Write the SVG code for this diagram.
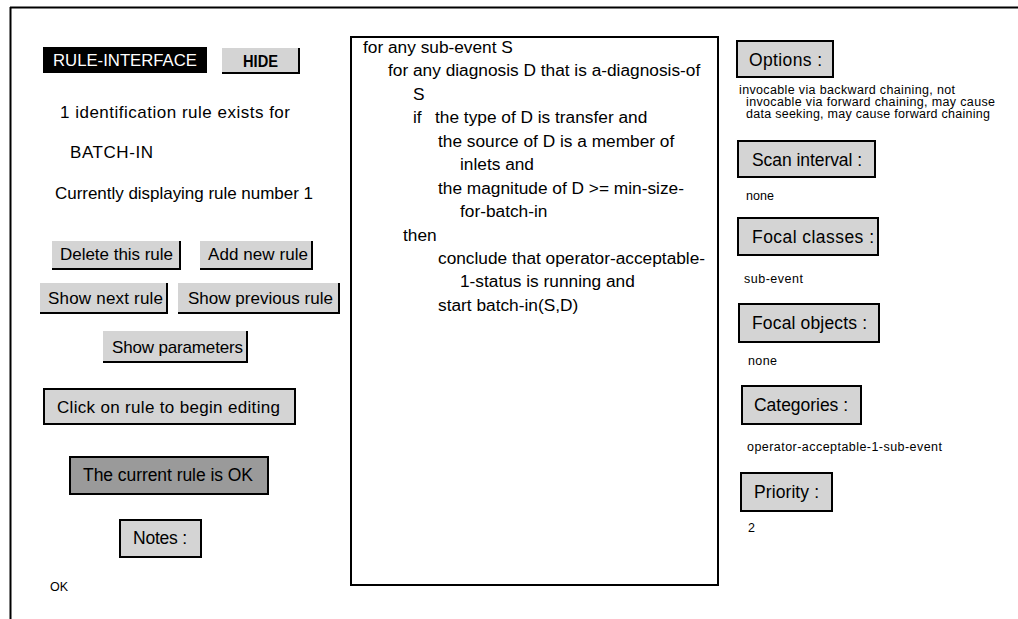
<svg xmlns="http://www.w3.org/2000/svg" width="1018" height="619" viewBox="0 0 1018 619">
<style>
text{font-family:"Liberation Sans",Arial,sans-serif;fill:#000}
.t{font-size:17px}
.c{font-size:17.5px}
.m{font-size:17.3px}
.s{font-size:12.5px}
.b{font-size:17px}
.btn{fill:#d4d4d4}
.sh{stroke:#000;stroke-width:2;fill:none}
.box{fill:#d4d4d4;stroke:#000;stroke-width:2}
</style>
<rect width="1018" height="619" fill="#fff"/>
<g id="frame">
<line x1="10" y1="7.5" x2="1018" y2="7.5" stroke="#000" stroke-width="2"/>
<line x1="10.5" y1="7" x2="10.5" y2="619" stroke="#000" stroke-width="2"/>
</g>
<g id="rule-interface">
<rect x="43" y="47" width="164" height="26" fill="#000"/>
<text x="53" y="66" class="b" textLength="144" lengthAdjust="spacingAndGlyphs" style="fill:#fff">RULE-INTERFACE</text>
</g>
<g id="hide">
<rect x="222" y="48" width="78" height="25" class="btn"/>
<path d="M299,48 V73 H222" class="sh"/>
<text x="243" y="67" class="b" font-weight="bold" textLength="35" lengthAdjust="spacingAndGlyphs">HIDE</text>
</g>
<g id="info">
<text x="60" y="118" class="t" textLength="230">1 identification rule exists for</text>
<text x="70" y="158" class="t" textLength="83">BATCH-IN</text>
<text x="55" y="199" class="t" textLength="258">Currently displaying rule number 1</text>
</g>
<g id="delete">
<rect x="52" y="241" width="129" height="28" class="btn"/>
<path d="M180,241 V269 H52" class="sh"/>
<text x="60" y="260" class="t" textLength="113">Delete this rule</text>
</g>
<g id="add">
<rect x="200" y="241" width="113" height="28" class="btn"/>
<path d="M312,241 V269 H200" class="sh"/>
<text x="208" y="260" class="t" textLength="100">Add new rule</text>
</g>
<g id="next">
<rect x="40" y="283" width="128" height="30" class="btn"/>
<path d="M167,283 V313 H40" class="sh"/>
<text x="48" y="304" class="t" textLength="115">Show next rule</text>
</g>
<g id="prev">
<rect x="178" y="283" width="162" height="30" class="btn"/>
<path d="M339,283 V313 H178" class="sh"/>
<text x="188" y="304" class="t" textLength="145">Show previous rule</text>
</g>
<g id="params">
<rect x="103" y="331" width="145" height="31" class="btn"/>
<path d="M247,331 V362 H103" class="sh"/>
<text x="112" y="353" class="t" textLength="131">Show parameters</text>
</g>
<g id="click-edit">
<rect x="44" y="389" width="251" height="35" class="box"/>
<text x="57" y="413" class="t" textLength="223">Click on rule to begin editing</text>
</g>
<g id="status">
<rect x="70" y="457" width="198" height="37" fill="#9a9a9a" stroke="#000" stroke-width="2"/>
<text x="83" y="481" class="c" textLength="170">The current rule is OK</text>
</g>
<g id="notes">
<rect x="120" y="520" width="81" height="37" class="box"/>
<text x="133" y="544" class="c" textLength="54">Notes :</text>
</g>
<g id="notes-value">
<text x="50" y="591" class="s" textLength="18">OK</text>
</g>
<g id="rule-text">
<rect x="351" y="37" width="367" height="548" fill="#fff" stroke="#000" stroke-width="2"/>
<text class="m">
<tspan x="363" y="53">for any sub-event S</tspan>
<tspan x="388" y="76">for any diagnosis D that is a-diagnosis-of</tspan>
<tspan x="413" y="100">S</tspan>
<tspan x="413" y="123">if</tspan><tspan x="435" y="123">the type of D is transfer and</tspan>
<tspan x="438" y="147">the source of D is a member of</tspan>
<tspan x="460" y="170">inlets and</tspan>
<tspan x="438" y="194">the magnitude of D &gt;= min-size-</tspan>
<tspan x="460" y="217">for-batch-in</tspan>
<tspan x="403" y="241">then</tspan>
<tspan x="438" y="264">conclude that operator-acceptable-</tspan>
<tspan x="460" y="287">1-status is running and</tspan>
<tspan x="438" y="311">start batch-in(S,D)</tspan>
</text>
</g>
<g id="options">
<rect x="737" y="41" width="96" height="36" class="box"/>
<text x="749" y="66" class="c" textLength="73">Options :</text>
<text x="739" y="94" class="s" textLength="216">invocable via backward chaining, not</text>
<text x="746" y="106" class="s" textLength="249">invocable via forward chaining, may cause</text>
<text x="746" y="118" class="s" textLength="244">data seeking, may cause forward chaining</text>
</g>
<g id="scan">
<rect x="738" y="141" width="137" height="36" class="box"/>
<text x="752" y="166" class="c" textLength="110">Scan interval :</text>
<text x="746" y="200" class="s" textLength="28">none</text>
</g>
<g id="focal-classes">
<rect x="738" y="218" width="140" height="37" class="box"/>
<text x="752" y="243" class="c" textLength="122">Focal classes :</text>
<text x="744" y="283" class="s" textLength="59">sub-event</text>
</g>
<g id="focal-objects">
<rect x="739" y="304" width="140" height="38" class="box"/>
<text x="752" y="329" class="c" textLength="115">Focal objects :</text>
<text x="748" y="365" class="s" textLength="29">none</text>
</g>
<g id="categories">
<rect x="742" y="386" width="119" height="38" class="box"/>
<text x="754" y="411" class="c" textLength="94">Categories :</text>
<text x="747" y="451" class="s" textLength="195">operator-acceptable-1-sub-event</text>
</g>
<g id="priority">
<rect x="741" y="473" width="91" height="38" class="box"/>
<text x="754" y="498" class="c" textLength="65">Priority :</text>
<text x="748" y="532" class="s">2</text>
</g>
</svg>
